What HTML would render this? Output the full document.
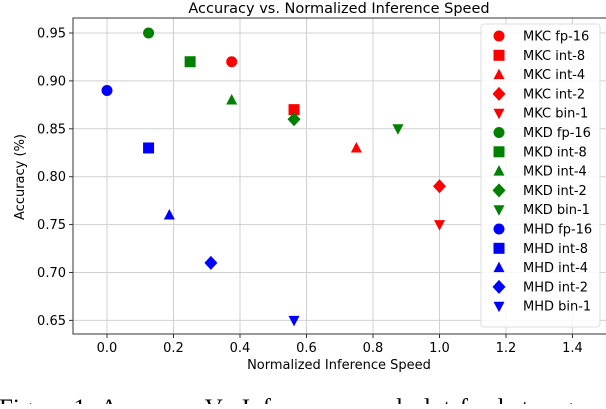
<!DOCTYPE html>
<html><head><meta charset="utf-8"><style>
body{margin:0;background:#fff;width:606px;height:404px;overflow:hidden}
svg text{font-family:"DejaVu Sans","Liberation Sans",sans-serif}
</style></head><body>
<svg width="606" height="404" id="chart">
<text x="339" y="13" font-size="14.5" text-anchor="middle">Accuracy vs. Normalized Inference Speed</text>
<g id="grid"></g>
<g id="axes"></g>
<g id="marks"></g>
<g id="legend"></g>
<text x="339" y="369" font-size="13" text-anchor="middle">Normalized Inference Speed</text>
<text transform="translate(24,177) rotate(-90)" font-size="13" text-anchor="middle">Accuracy (%)</text>
<text x="-1" y="416" font-size="25" style="font-family:'Liberation Serif',serif;word-spacing:3px">Figure 1. Accuracy Vs Inference speed plot for heterogeneous</text>
</svg>
<script>
const seriesNames=["MKC fp-16","MKC int-8","MKC int-4","MKC int-2","MKC bin-1","MKD fp-16","MKD int-8","MKD int-4","MKD int-2","MKD bin-1","MHD fp-16","MHD int-8","MHD int-4","MHD int-2","MHD bin-1"];
const speedValues=[0.375,0.5625,0.75,1.0,1.0,0.125,0.25,0.375,0.5625,0.875,0,0.125,0.1875,0.3125,0.5625];
const accuracyValues=[0.92,0.87,0.83,0.79,0.75,0.95,0.92,0.88,0.86,0.85,0.89,0.83,0.76,0.71,0.65];
const seriesColors=["#ff0000","#ff0000","#ff0000","#ff0000","#ff0000","#008000","#008000","#008000","#008000","#008000","#0000ff","#0000ff","#0000ff","#0000ff","#0000ff"];
const seriesMarkers=["o","s","^","D","v","o","s","^","D","v","o","s","^","D","v"];
const xTicks=[0.0,0.2,0.4,0.6,0.8,1.0,1.2,1.4];
const yTicks=[0.65,0.70,0.75,0.80,0.85,0.90,0.95];
const L=73,R=606,T=18,B=334;
const X=v=>107+(v/0.2)*66.5;
const Y=v=>33+((0.95-v)/0.05)*47.9;
const NS="http://www.w3.org/2000/svg";
function mk(t,a,p){const e=document.createElementNS(NS,t);for(const k in a)e.setAttribute(k,a[k]);p.appendChild(e);return e;}
const grid=document.getElementById('grid'),axes=document.getElementById('axes'),marks=document.getElementById('marks'),leg=document.getElementById('legend');
xTicks.forEach(t=>{const x=X(t);
 let g=mk('line',{x1:x,x2:x,y1:T,y2:B,stroke:'#d0d0d0','stroke-width':1},grid);
 
 
 mk('line',{x1:x,x2:x,y1:B,y2:B+4,stroke:'#333'},axes);
 let tx=mk('text',{x:x,y:B+18,'font-size':13,'text-anchor':'middle'},axes);tx.textContent=t.toFixed(1);
 
 
});
yTicks.forEach(t=>{const y=Y(t);
 let g=mk('line',{x1:L,x2:R,y1:y,y2:y,stroke:'#d0d0d0','stroke-width':1},grid);
 
 
 mk('line',{x1:L-4,x2:L,y1:y,y2:y,stroke:'#333'},axes);
 let tx=mk('text',{x:L-7,y:y+4.5,'font-size':13,'text-anchor':'end'},axes);tx.textContent=t.toFixed(2);
 
 
});
mk('polyline',{points:`${R},${T} ${L},${T} ${L},${B} ${R},${B}`,fill:'none',stroke:'#333','stroke-width':1},axes);
function marker(m,x,y,c,p){const s=5.5;let e;
 if(m==='o')e=mk('circle',{cx:x,cy:y,r:s},p);
 else if(m==='s')e=mk('rect',{x:x-s,y:y-s,width:2*s,height:2*s},p);
 else if(m==='^')e=mk('polygon',{points:`${x},${y-s-0.5} ${x-s},${y+s-1} ${x+s},${y+s-1}`},p);
 else if(m==='v')e=mk('polygon',{points:`${x},${y+s+0.5} ${x-s},${y-s+1} ${x+s},${y-s+1}`},p);
 else e=mk('polygon',{points:`${x},${y-s-1.5} ${x+s+1},${y} ${x},${y+s+1.5} ${x-s-1},${y}`},p);
 e.setAttribute('fill',c);return e;}
seriesNames.forEach((n,i)=>{
 const e=marker(seriesMarkers[i],X(speedValues[i]),Y(accuracyValues[i]),seriesColors[i],marks);
 
 
});
const lb=mk('rect',{x:481,y:24,width:119,height:303,rx:3,fill:'#fff','fill-opacity':0.85,stroke:'#ddd'},leg);


seriesNames.forEach((n,i)=>{const y=36+i*19.3;
 const e=marker(seriesMarkers[i],499,y,seriesColors[i],leg);
 
 
 const t=mk('text',{x:523,y:y+4.5,'font-size':13},leg);t.textContent=n;
 
 
});
</script>
</body></html>
